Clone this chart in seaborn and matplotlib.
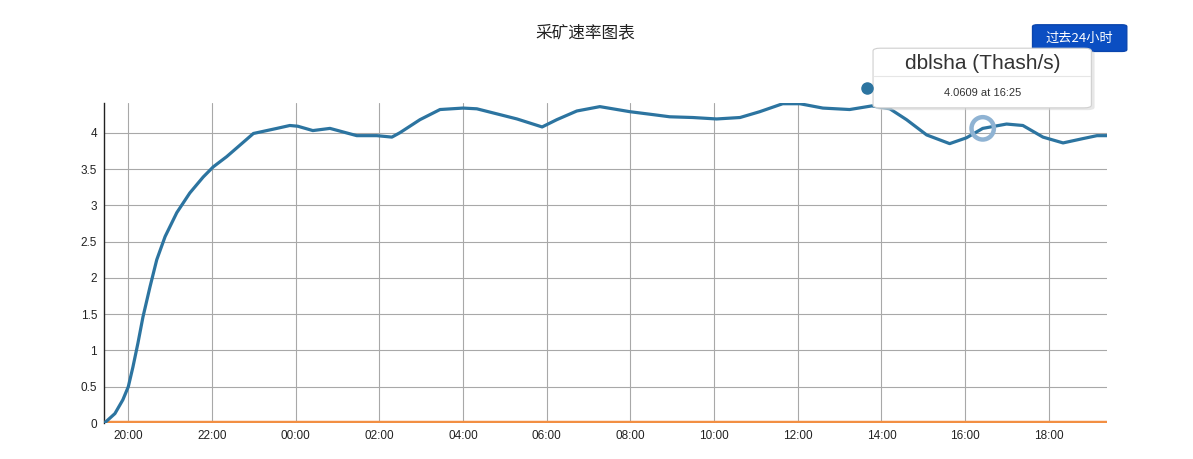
import numpy as np
import pandas as pd
import matplotlib
matplotlib.use('Agg')
import matplotlib.pyplot as plt
from matplotlib.patches import FancyBboxPatch
import seaborn as sns

# hours since midnight of the first day (20 = 20:00, 24 = 00:00 next day)
hours = [19.42, 19.45, 19.68, 19.87, 20.0, 20.11, 20.23, 20.35, 20.52, 20.68,
         20.88, 21.16, 21.47, 21.79, 22.03, 22.35, 22.67, 22.99, 23.31, 23.55,
         23.86, 24.05, 24.41, 24.82, 25.46, 25.94, 26.3, 26.49, 26.97, 27.45,
         28.0, 28.33, 28.88, 29.29, 29.89, 30.24, 30.72, 31.27, 31.99, 32.54,
         32.94, 33.49, 34.06, 34.62, 35.09, 35.64, 36.05, 36.6, 37.24, 37.77,
         38.2, 38.6, 39.08, 39.63, 40.03, 40.42, 40.99, 41.38, 41.86, 42.34,
         42.82, 43.15, 43.39]
dblsha = [0.0, 0.01, 0.13, 0.32, 0.5, 0.77, 1.1, 1.46, 1.88, 2.25,
          2.57, 2.9, 3.17, 3.39, 3.53, 3.67, 3.83, 3.99, 4.03, 4.06,
          4.1, 4.09, 4.03, 4.06, 3.96, 3.96, 3.94, 4.0, 4.18, 4.32,
          4.34, 4.33, 4.25, 4.19, 4.08, 4.18, 4.3, 4.36, 4.29, 4.25,
          4.22, 4.21, 4.19, 4.21, 4.29, 4.4, 4.4, 4.34, 4.32, 4.37,
          4.33, 4.18, 3.97, 3.85, 3.93, 4.06, 4.12, 4.1, 3.94, 3.86,
          3.92, 3.96, 3.96]
other_hours = [19.42, 43.39]
other = [0.0, 0.0]

tick_hours = [20, 22, 24, 26, 28, 30, 32, 34, 36, 38, 40, 42]
tick_labels = ['20:00', '22:00', '00:00', '02:00', '04:00', '06:00',
               '08:00', '10:00', '12:00', '14:00', '16:00', '18:00']
y_ticks = [0, 0.5, 1, 1.5, 2, 2.5, 3, 3.5, 4]
y_labels = ['0', '0.5', '1', '1.5', '2', '2.5', '3', '3.5', '4']

hover_hour = 40.42
hover_value = 4.0609

title = '采矿速率图表'
series_name = 'dblsha (Thash/s)'
button_text = '过去24小时'

sns.set_style('white')
plt.rcParams['font.family'] = ['Noto Sans CJK SC', 'DejaVu Sans']

df = pd.DataFrame({'hour': hours, 'value': dblsha})
df2 = pd.DataFrame({'hour': other_hours, 'value': other})

fig = plt.figure(figsize=(11.93, 4.59), dpi=100)
ax = fig.add_axes([0.0872, 0.0784, 0.8407, 0.6972])

ax.grid(True, color='#a8a8a8', linewidth=0.8)
ax.set_axisbelow(True)

sns.lineplot(data=df2, x='hour', y='value', ax=ax, color='#f28f43', linewidth=3.2, zorder=3)
sns.lineplot(data=df, x='hour', y='value', ax=ax, color='#2c74a0', linewidth=2.3, zorder=4,
             solid_joinstyle='round', solid_capstyle='round')

# hovered point
ax.scatter([hover_hour], [hover_value], s=260, facecolor='none',
           edgecolor='#8fb3d3', linewidth=3.2, zorder=5)

ax.set_xlim(19.42, 43.39)
ax.set_ylim(0, 4.41)
ax.set_xticks(tick_hours)
ax.set_xticklabels(tick_labels, fontsize=8.5, color='#222222', family='Liberation Sans')
ax.set_yticks(y_ticks)
ax.set_yticklabels(y_labels, fontsize=8.5, color='#222222', family='Liberation Sans')
ax.tick_params(axis='both', length=0, pad=5)
ax.set_xlabel('')
ax.set_ylabel('')
for s in ['top', 'right', 'bottom']:
    ax.spines[s].set_visible(False)
ax.spines['left'].set_color('#222222')
ax.spines['left'].set_linewidth(1.0)

fig.text(0.491, 0.928, title, ha='center', va='center', fontsize=12, color='#222222')

# range button
btn = FancyBboxPatch((0.8655, 0.888), 0.079, 0.058, boxstyle='round,pad=0,rounding_size=0.004',
                     transform=fig.transFigure, facecolor='#0b4ec2', edgecolor='#0a45ad')
fig.patches.append(btn)
fig.text(0.905, 0.917, button_text, ha='center', va='center', fontsize=9.5, color='white')

# tooltip
shadow = FancyBboxPatch((0.7345, 0.760), 0.183, 0.130, boxstyle='round,pad=0,rounding_size=0.006',
                        transform=fig.transFigure, facecolor='#d8d8d8', edgecolor='none', alpha=0.6)
fig.patches.append(shadow)
tip = FancyBboxPatch((0.7318, 0.765), 0.183, 0.130, boxstyle='round,pad=0,rounding_size=0.006',
                     transform=fig.transFigure, facecolor='white', edgecolor='#cfcfcf', linewidth=0.8)
fig.patches.append(tip)
fig.add_artist(plt.Line2D([0.733, 0.914], [0.834, 0.834], transform=fig.transFigure,
                          color='#e6e6e6', linewidth=0.8))
fig.text(0.8235, 0.862, series_name, ha='center', va='center', fontsize=15,
         family='Liberation Sans', color='#333333')
fig.text(0.8235, 0.798, f'{hover_value} at 16:25', ha='center', va='center', fontsize=8,
         family='Liberation Sans', color='#333333')
fig.add_artist(plt.Line2D([0.7268], [0.808], transform=fig.transFigure, marker='o',
                          markersize=8, color='#2c74a0', linestyle='none'))

fig.savefig('out.png', dpi=100, facecolor='white')
